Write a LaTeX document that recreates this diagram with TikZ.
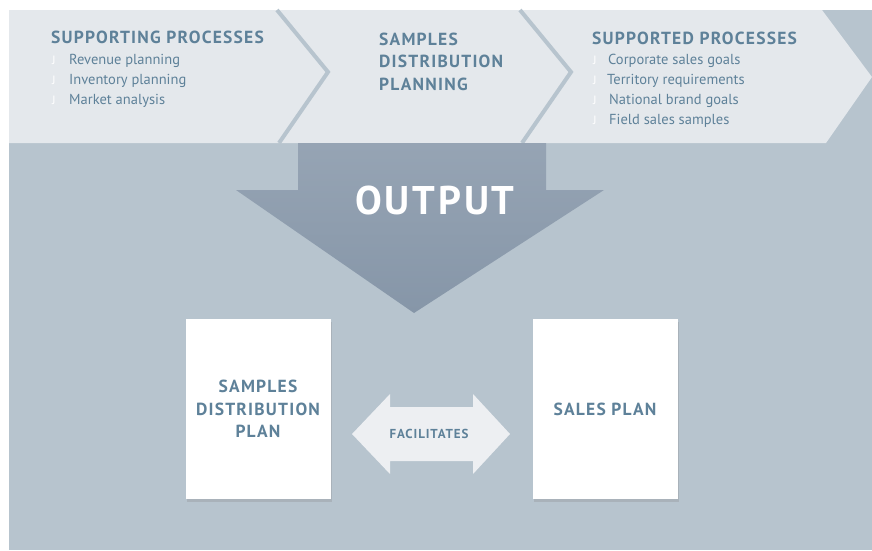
\documentclass[tikz,border=0pt]{standalone}
\usepackage{fontspec}
\setmainfont{PT Sans}
\newfontfamily\headfont[LetterSpace=7]{PT Sans}
\usetikzlibrary{positioning, calc, shadows}

\definecolor{bgblue}{RGB}{183,196,206}
\definecolor{bandgray}{RGB}{228,232,236}
\definecolor{txtblue}{RGB}{94,129,153}
\definecolor{outtop}{RGB}{150,164,180}
\definecolor{outbot}{RGB}{134,150,168}
\definecolor{facilgray}{RGB}{237,239,242}

\begin{document}
\begin{tikzpicture}[x=1pt,y=-1pt,
    head/.style={text=txtblue, font=\headfont\bfseries\fontsize{17.5}{22.5}\selectfont, inner sep=0pt},
    item/.style={text=txtblue, font=\fontsize{14.5}{17}\selectfont, anchor=base west, inner sep=0pt},
    tick/.style={text=white, font=\fontsize{12}{12}\selectfont, anchor=base west, inner sep=0pt},
    plan/.style={fill=white, minimum width=145pt, minimum height=180pt, inner sep=0pt,
        align=center, text=txtblue, font=\headfont\bfseries\fontsize{17.5}{22.5}\selectfont,
        drop shadow={shadow xshift=1pt, shadow yshift=-3pt, opacity=.25, fill=black!50}}]
        \useasboundingbox (0,0) rectangle (872,550);

        % the background
        \fill[bgblue] (9,10) rectangle (872,550);
        \fill[bandgray] (9,10) -- (822,10) -- (872,77) -- (826,143) -- (9,143) -- cycle;

        % the chevrons
        \draw[bgblue, line width=4pt] (277,10) -- (328,72) -- (279,143);
        \draw[bgblue, line width=4pt] (520,10) -- (571,72) -- (522,143);

        % supporting processes
        \node[head, anchor=base west] (supporting) at (51,43) {SUPPORTING PROCESSES};
        \node[tick] (t1) at (52,64) {J};
        \node[item] (revenue) at (69,64) {Revenue planning};
        \node[tick] (t2) at (52,84) {J};
        \node[item] (inventory) at (69,84) {Inventory planning};
        \node[tick] (t3) at (52,104) {J};
        \node[item] (market) at (69,104) {Market analysis};

        % samples distribution planning
        \node[head, anchor=base west] (sdp1) at (379,45) {SAMPLES};
        \node[head, anchor=base west] (sdp2) at (379,67.5) {DISTRIBUTION};
        \node[head, anchor=base west] (sdp3) at (379,90) {PLANNING};

        % supported processes
        \node[head, anchor=base west] (supported) at (592,44) {SUPPORTED PROCESSES};
        \node[tick] (t4) at (593,64) {J};
        \node[item] (corporate) at (608,64) {Corporate sales goals};
        \node[tick] (t5) at (593,84) {J};
        \node[item] (territory) at (607,84) {Territory requirements};
        \node[tick] (t6) at (593,104) {J};
        \node[item] (national) at (609,104) {National brand goals};
        \node[tick] (t7) at (593,124) {J};
        \node[item] (field) at (609,124) {Field sales samples};

        % the output arrow
        \shade[top color=outtop, bottom color=outbot]
            (298,143) -- (546,143) -- (546,190) -- (604,190) -- (414,313)
            -- (236,190) -- (298,190) -- cycle;
        \node[text=white, font=\headfont\bfseries\fontsize{40}{40}\selectfont, inner sep=0pt]
            (output) at (435,200) {OUTPUT};

        % the two plans
        \node[plan] (sdplan) at (258,409) {SAMPLES\\DISTRIBUTION\\PLAN};
        \node[plan] (salesplan) at (605,409) {SALES PLAN};

        % facilitates arrow
        \fill[facilgray] (352,434) -- (390,394) -- (390,407) -- (473,407) -- (473,394)
            -- (510,434) -- (473,474) -- (473,461) -- (390,461) -- (390,474) -- cycle;
        \node[text=txtblue, font=\headfont\bfseries\fontsize{13}{15}\selectfont, inner sep=0pt]
            (facil) at (429,434) {FACILITATES};
    \end{tikzpicture}
\end{document}
